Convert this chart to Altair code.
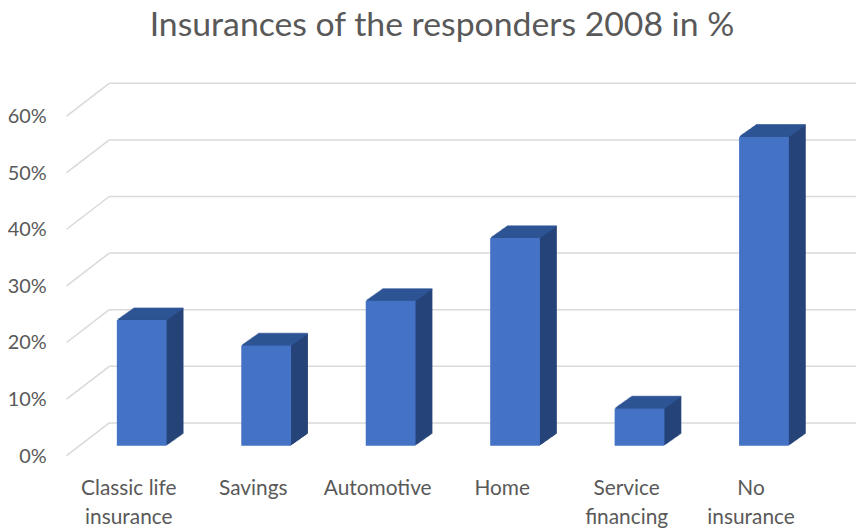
import altair as alt
import pandas as pd

# ---- data ----
categories = ["Classic life insurance", "Savings", "Automotive", "Home",
              "Service financing", "No insurance"]
values = [0.222, 0.177, 0.256, 0.367, 0.066, 0.546]
category_labels = ["Classic life|insurance", "Savings", "Automotive", "Home",
                   "Service|financing", "No|insurance"]
y_ticks = [0, 0.1, 0.2, 0.3, 0.4, 0.5, 0.6]
title_text = "Insurances of the responders 2008 in %"

# ---- style ----
FRONT = "#4472C4"
TOP = "#2F5597"
SIDE = "#264478"
GRID = "#D9D9D9"
TEXT = "#595959"
FONT = "Lato"

W, H = 752, 342
STEP = W / 6
BW = STEP * 0.4
WALL_DX, WALL_DY = -43, 33     # front of the floor relative to the back wall
BAR_DX, BAR_DY = -30, 23       # front face of the bars relative to the back wall
DEPTH_X, DEPTH_Y = 17, -12     # bar depth
N = 17

df = pd.DataFrame({"category": categories, "value": values, "label": category_labels})
grid_df = pd.DataFrame({"tick": y_ticks})

x_scale = alt.Scale(paddingInner=0.6, paddingOuter=0.3)
y_scale = alt.Scale(domain=[0, 0.6])
X = alt.X("category:N", sort=categories, scale=x_scale, axis=None)
Y = alt.Y("value:Q", scale=y_scale, axis=None)

base = alt.Chart(df)
layers = []

# back wall gridlines
layers.append(
    alt.Chart(grid_df).mark_rule(color=GRID, strokeWidth=1.5).encode(
        y=alt.Y("tick:Q", scale=y_scale, axis=None)
    )
)
# side wall gridlines
layers.append(
    alt.Chart(grid_df).mark_rule(
        color=GRID, strokeWidth=1.5,
        xOffset=WALL_DX, yOffset=WALL_DY, x2Offset=0, y2Offset=0,
    ).encode(
        y=alt.Y("tick:Q", scale=y_scale, axis=None),
        y2=alt.Y2("tick"),
        x=alt.value(0),
        x2=alt.value(0),
    )
)
# y tick labels (front edge)
layers.append(
    alt.Chart(grid_df).mark_text(
        align="right", baseline="middle", font=FONT, fontSize=20, color=TEXT,
        dx=WALL_DX - 20, dy=WALL_DY + 1,
    ).encode(
        y=alt.Y("tick:Q", scale=y_scale, axis=None),
        x=alt.value(0),
        text=alt.Text("tick:Q", format=".0%"),
    )
)
# category labels (front edge)
layers.append(
    base.mark_text(
        align="center", baseline="top", font=FONT, fontSize=21, color=TEXT,
        lineBreak="|", lineHeight=29, dx=WALL_DX, dy=56,
    ).encode(
        x=X,
        y=alt.value(H),
        text="label:N",
    )
)

# bar sides (extrusion)
for k in range(N, 0, -1):
    ox = BAR_DX + DEPTH_X * k / N
    oy = BAR_DY + DEPTH_Y * k / N
    layers.append(
        base.mark_bar(color=SIDE, xOffset=ox, x2Offset=ox, yOffset=oy, y2Offset=oy)
        .encode(x=X, y=Y)
    )
# bar tops
for k in range(N, 0, -1):
    ox = BAR_DX + DEPTH_X * k / N
    oy = BAR_DY + DEPTH_Y * k / N
    layers.append(
        base.mark_tick(color=TOP, size=BW, thickness=1.6, xOffset=ox, yOffset=oy)
        .encode(x=X, y=Y)
    )
# bar fronts
layers.append(
    base.mark_bar(
        color=FRONT,
        xOffset=BAR_DX, x2Offset=BAR_DX, yOffset=BAR_DY, y2Offset=BAR_DY,
    ).encode(x=X, y=Y)
)

chart = alt.layer(*layers).properties(
    width=W,
    height=H,
    autosize=alt.AutoSizeParams(type="none"),
    padding={"left": 102, "top": 74, "right": 0, "bottom": 106},
    title=alt.TitleParams(
        text=title_text, font=FONT, fontSize=34, fontWeight="normal",
        color=TEXT, anchor="middle", dx=-41, baseline="bottom", offset=6,
    ),
).configure_view(stroke=None)

chart.save("out.html", embed_options={"renderer": "svg", "actions": False})
